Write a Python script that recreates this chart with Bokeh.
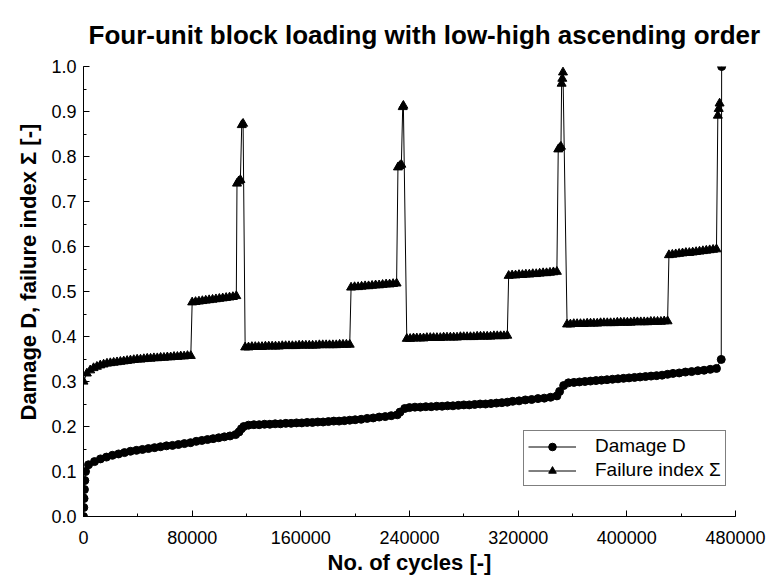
import numpy as np
from bokeh.plotting import figure
from bokeh.models import (SingleIntervalTicker, NumeralTickFormatter, Range1d,
                          Legend, LegendItem, Title)
from bokeh.embed import file_html
from bokeh.resources import INLINE

# ---------------- data ----------------
# Failure index Sigma: each unit is [start cycle, end cycle] + sampled values
sig_units = [
    (0, 79000, [0.300, 0.318, 0.325, 0.330, 0.333, 0.336, 0.338, 0.340, 0.341, 0.342, 0.343,
                0.344, 0.345, 0.346, 0.347, 0.348, 0.349, 0.349, 0.350, 0.351, 0.351, 0.352,
                0.352, 0.353, 0.353, 0.354, 0.354, 0.355, 0.355, 0.356, 0.356, 0.357, 0.357]),
    (80000, 112500, [0.476, 0.477, 0.478, 0.479, 0.480, 0.481, 0.482, 0.483, 0.484, 0.485,
                     0.486, 0.487, 0.488, 0.490]),
    (113000, 115500, [0.740, 0.745, 0.748]),
    (116500, 117500, [0.870, 0.873]),
    (119000, 196000, [0.376, 0.376, 0.377, 0.377, 0.377, 0.377, 0.378, 0.378, 0.378, 0.378,
                      0.378, 0.379, 0.379, 0.379, 0.379, 0.379, 0.380, 0.380, 0.380, 0.380,
                      0.380, 0.380, 0.381, 0.381, 0.381, 0.381, 0.381, 0.381, 0.382, 0.382,
                      0.382, 0.382]),
    (197000, 230500, [0.509, 0.510, 0.510, 0.511, 0.512, 0.512, 0.513, 0.514, 0.514, 0.515,
                      0.516, 0.516, 0.517, 0.518]),
    (231500, 234000, [0.776, 0.779, 0.782]),
    (235000, 235500, [0.910, 0.913]),
    (238000, 312000, [0.395, 0.395, 0.396, 0.396, 0.396, 0.396, 0.397, 0.397, 0.397, 0.397,
                      0.397, 0.398, 0.398, 0.398, 0.398, 0.398, 0.399, 0.399, 0.399, 0.399,
                      0.399, 0.400, 0.400, 0.400, 0.400, 0.400, 0.401, 0.401, 0.401, 0.401,
                      0.402]),
    (313000, 348500, [0.535, 0.536, 0.536, 0.537, 0.537, 0.538, 0.538, 0.539, 0.539, 0.540,
                      0.541, 0.541, 0.542, 0.543, 0.544]),
    (349500, 351500, [0.816, 0.819, 0.822]),
    (352000, 353000, [0.962, 0.973, 0.987]),
    (356000, 430000, [0.427, 0.427, 0.428, 0.428, 0.428, 0.428, 0.429, 0.429, 0.429, 0.429,
                      0.430, 0.430, 0.430, 0.430, 0.430, 0.431, 0.431, 0.431, 0.431, 0.431,
                      0.432, 0.432, 0.432, 0.432, 0.432, 0.433, 0.433, 0.433, 0.433, 0.434,
                      0.434]),
    (431000, 466000, [0.581, 0.582, 0.583, 0.584, 0.585, 0.586, 0.586, 0.587, 0.588, 0.589,
                      0.590, 0.591, 0.592, 0.593, 0.594]),
    (467000, 468300, [0.891, 0.906, 0.918]),
]

# Damage D: first stretch with explicit cycles, then units as [start, end] + values
dmg_start_cycles = [0, 200, 400, 700, 1000, 1500, 3700, 8100, 12500, 16900, 21300, 25800,
                    30200, 34600, 39000, 43400, 47800, 52300, 56700, 61100, 65500, 69900,
                    74300, 78800]
dmg_start_values = [0.000, 0.020, 0.040, 0.060, 0.080, 0.100, 0.115, 0.122, 0.128, 0.132,
                    0.136, 0.139, 0.142, 0.145, 0.147, 0.149, 0.151, 0.153, 0.155, 0.157,
                    0.158, 0.160, 0.162, 0.164]
dmg_units = [
    (83000, 112000, [0.167, 0.169, 0.171, 0.173, 0.175, 0.177, 0.179, 0.182]),
    (114500, 118000, [0.188, 0.195, 0.200]),
    (121500, 196000, [0.203, 0.204, 0.204, 0.205, 0.205, 0.206, 0.206, 0.207, 0.207, 0.208,
                      0.208, 0.209, 0.209, 0.210, 0.210, 0.211, 0.212, 0.212, 0.213, 0.214]),
    (200000, 231000, [0.215, 0.216, 0.218, 0.219, 0.221, 0.222, 0.224, 0.226]),
    (233000, 236500, [0.232, 0.240]),
    (240000, 312000, [0.242, 0.243, 0.243, 0.244, 0.244, 0.245, 0.245, 0.246, 0.246, 0.247,
                      0.248, 0.248, 0.249, 0.250, 0.250, 0.251, 0.252, 0.253, 0.254]),
    (316000, 348500, [0.256, 0.257, 0.259, 0.260, 0.262, 0.263, 0.265, 0.268]),
    (350500, 353500, [0.278, 0.291]),
    (357000, 430000, [0.297, 0.298, 0.299, 0.300, 0.301, 0.302, 0.303, 0.304, 0.305, 0.306,
                      0.307, 0.308, 0.309, 0.310, 0.311, 0.312, 0.313, 0.314, 0.316]),
    (434000, 466000, [0.318, 0.319, 0.321, 0.322, 0.324, 0.325, 0.327, 0.329]),
]
dmg_end_cycles = [469500, 469800]
dmg_end_values = [0.349, 1.000]

x_ticks_interval = 80000
y_ticks_interval = 0.1

# ---------------- assemble ----------------
sig_x, sig_y = [], []
for a, b, vals in sig_units:
    sig_x += list(np.linspace(a, b, len(vals)))
    sig_y += vals

dmg_x = list(dmg_start_cycles)
dmg_y = list(dmg_start_values)
for a, b, vals in dmg_units:
    dmg_x += list(np.linspace(a, b, len(vals)))
    dmg_y += vals
dmg_x += dmg_end_cycles
dmg_y += dmg_end_values

FONT = "Liberation Sans"

p = figure(width=768, height=578, output_backend="svg", toolbar_location=None,
           x_range=Range1d(0, 480000), y_range=Range1d(0, 1.0),
           min_border_left=83, min_border_right=33, min_border_top=65, min_border_bottom=62)
p.outline_line_color = None
p.xgrid.grid_line_color = None
p.ygrid.grid_line_color = None
p.background_fill_color = "white"
p.border_fill_color = "white"

p.title.text = "Four-unit block loading with low-high ascending order"
p.title.text_font = FONT
p.title.text_font_size = "26px"
p.title.text_font_style = "bold"
p.title.align = "left"
p.title.offset = 5
p.title.standoff = 34
p.title.text_color = "black"

for ax in (p.xaxis[0], p.yaxis[0]):
    ax.axis_line_color = "black"
    ax.axis_line_width = 1
    ax.major_tick_in = 6
    ax.major_tick_out = 0
    ax.minor_tick_in = 3
    ax.minor_tick_out = 0
    ax.major_tick_line_color = "black"
    ax.minor_tick_line_color = "black"
    ax.major_label_text_font = FONT
    ax.major_label_text_font_size = "18px"
    ax.major_label_text_color = "black"
    ax.axis_label_text_font = FONT
    ax.axis_label_text_font_size = "22px"
    ax.axis_label_text_font_style = "bold"
    ax.axis_label_text_color = "black"

p.xaxis[0].major_label_standoff = 14
p.yaxis[0].major_label_standoff = 7
p.xaxis[0].ticker = SingleIntervalTicker(interval=x_ticks_interval, num_minor_ticks=2)
p.yaxis[0].ticker = SingleIntervalTicker(interval=y_ticks_interval, num_minor_ticks=2)
p.xaxis[0].formatter = NumeralTickFormatter(format="0")
p.yaxis[0].formatter = NumeralTickFormatter(format="0.0")
p.xaxis[0].axis_label = "No. of cycles [-]"
p.xaxis[0].axis_label_standoff = 3

# y-axis title as a side title, placed slightly above the frame centre as in the reference
ytitle = Title(text="Damage D, failure index Σ [-]", align="left", offset=96,
               text_font=FONT, text_font_size="22px", text_font_style="bold",
               text_color="black", standoff=16)
p.add_layout(ytitle, "left")

sl = p.line(sig_x, sig_y, line_color="black", line_width=1)
ss = p.scatter(sig_x, sig_y, marker="triangle", size=9, fill_color="black", line_color="black")
dl = p.line(dmg_x, dmg_y, line_color="black", line_width=1)
ds = p.scatter(dmg_x, dmg_y, marker="circle", size=8, fill_color="black", line_color="black")

legend = Legend(items=[LegendItem(label="Damage D", renderers=[dl, ds]),
                       LegendItem(label="Failure index Σ", renderers=[sl, ss])],
                location=(440, 30))
legend.label_text_font = FONT
legend.label_text_font_size = "19px"
legend.label_text_color = "black"
legend.border_line_color = "black"
legend.border_line_width = 1
legend.padding = 4
legend.spacing = 2
legend.glyph_width = 48
legend.glyph_height = 19
legend.label_height = 19
legend.label_standoff = 19
legend.margin = 0
legend.background_fill_alpha = 1
p.add_layout(legend)

open("out.html", "w").write(file_html(p, INLINE))
